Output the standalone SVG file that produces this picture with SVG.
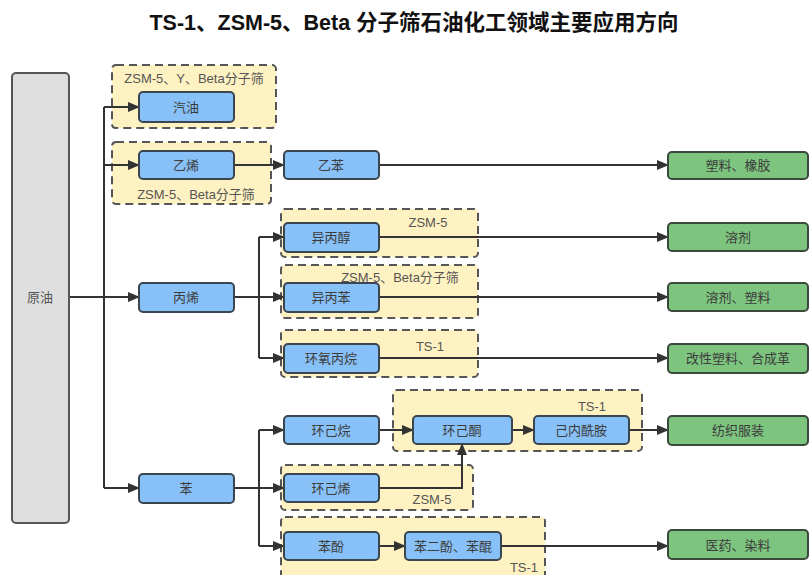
<svg xmlns="http://www.w3.org/2000/svg" width="810" height="575" viewBox="0 0 810 575">
<style>
text{font-family:"Liberation Sans","Noto Sans CJK SC",sans-serif;}
.title{font-size:21.5px;font-weight:bold;fill:#111;text-anchor:middle;}
.grp{fill:#FFF2C2;stroke:#555;stroke-width:2;stroke-dasharray:8 5;}
.glbl{font-size:13px;fill:#555;text-anchor:middle;}
.blue{fill:#88C1F7;stroke:#3a4552;stroke-width:2;}
.green{fill:#7DC47F;stroke:#3a4a3a;stroke-width:2;}
.gray{fill:#DEDEDE;stroke:#555;stroke-width:2;}
.lbl{font-size:13px;fill:#3c3c3c;text-anchor:middle;dominant-baseline:central;}
.cn{fill:none;stroke:#333;stroke-width:2;}
.ar{fill:none;stroke:#333;stroke-width:2;marker-end:url(#ah);}
</style>
<defs>
<marker id="ah" markerWidth="12" markerHeight="10" refX="11" refY="5" orient="auto" markerUnits="userSpaceOnUse">
<path d="M0,0 L12,5 L0,10 Z" fill="#333"/>
</marker>
</defs>
<rect width="810" height="575" fill="#fff"/>
<text class="title" x="414" y="30">TS-1、ZSM-5、Beta 分子筛石油化工领域主要应用方向</text>

<g id="containers">
<g id="grp-gasoline"><rect class="grp" x="112" y="65" width="164" height="63" rx="4"/><text class="glbl" x="194" y="83">ZSM-5、Y、Beta分子筛</text></g>
<g id="grp-ethylene"><rect class="grp" x="112" y="142" width="159" height="62" rx="4"/><text class="glbl" x="196" y="199">ZSM-5、Beta分子筛</text></g>
<g id="grp-ipa"><rect class="grp" x="281" y="209" width="197" height="48" rx="4"/><text class="glbl" x="428" y="227">ZSM-5</text></g>
<g id="grp-cumene"><rect class="grp" x="281" y="265" width="197" height="53" rx="4"/><text class="glbl" x="400" y="282">ZSM-5、Beta分子筛</text></g>
<g id="grp-po"><rect class="grp" x="281" y="330" width="197" height="47" rx="4"/><text class="glbl" x="430" y="351">TS-1</text></g>
<g id="grp-cyclohexanone"><rect class="grp" x="393" y="390" width="249" height="61" rx="4"/><text class="glbl" x="592" y="411">TS-1</text></g>
<g id="grp-cyclohexene"><rect class="grp" x="281" y="465" width="192" height="45" rx="4"/><text class="glbl" x="432" y="504">ZSM-5</text></g>
<g id="grp-phenol"><rect class="grp" x="281" y="517" width="264" height="64" rx="4"/><text class="glbl" x="524" y="572">TS-1</text></g>
</g>

<g id="connectors">
<path class="ar" d="M69,297 H139"/>
<path class="cn" d="M104,107 V488"/>
<path class="ar" d="M104,107 H139"/>
<path class="ar" d="M104,165 H139"/>
<path class="ar" d="M104,488 H139"/>
<path class="ar" d="M234,165 H284"/>
<path class="ar" d="M379,165 H668"/>
<path class="ar" d="M234,297 H284"/>
<path class="cn" d="M259,237 V358"/>
<path class="ar" d="M259,237 H284"/>
<path class="ar" d="M259,358 H284"/>
<path class="ar" d="M379,237 H668"/>
<path class="ar" d="M379,297 H668"/>
<path class="ar" d="M379,358 H668"/>
<path class="ar" d="M234,488 H284"/>
<path class="cn" d="M259,430 V546"/>
<path class="ar" d="M259,430 H284"/>
<path class="ar" d="M259,546 H284"/>
<path class="ar" d="M379,430 H413"/>
<path class="ar" d="M512,430 H534"/>
<path class="ar" d="M629,430 H668"/>
<path class="ar" d="M379,488 H462 V444"/>
<path class="ar" d="M379,546 H405"/>
<path class="ar" d="M501,546 H668"/>
</g>

<g id="crude"><rect class="gray" x="12" y="73" width="57" height="450" rx="4"/><text class="lbl" x="40" y="297" style="fill:#555">原油</text></g>
<g id="gasoline"><rect class="blue" x="139" y="92" width="95" height="30" rx="4"/><text class="lbl" x="186" y="107">汽油</text></g>
<g id="ethylene"><rect class="blue" x="139" y="151" width="95" height="28" rx="4"/><text class="lbl" x="186" y="165">乙烯</text></g>
<g id="propylene"><rect class="blue" x="139" y="283" width="95" height="29" rx="4"/><text class="lbl" x="186" y="297">丙烯</text></g>
<g id="benzene"><rect class="blue" x="139" y="474" width="95" height="29" rx="4"/><text class="lbl" x="186" y="488">苯</text></g>
<g id="ethylbenzene"><rect class="blue" x="284" y="151" width="95" height="28" rx="4"/><text class="lbl" x="331" y="165">乙苯</text></g>
<g id="ipa"><rect class="blue" x="284" y="223" width="95" height="29" rx="4"/><text class="lbl" x="331" y="237">异丙醇</text></g>
<g id="cumene"><rect class="blue" x="284" y="283" width="95" height="29" rx="4"/><text class="lbl" x="331" y="297">异丙苯</text></g>
<g id="po"><rect class="blue" x="284" y="344" width="95" height="29" rx="4"/><text class="lbl" x="331" y="358">环氧丙烷</text></g>
<g id="cyclohexane"><rect class="blue" x="284" y="416" width="95" height="28" rx="4"/><text class="lbl" x="331" y="430">环己烷</text></g>
<g id="cyclohexanone"><rect class="blue" x="413" y="416" width="99" height="28" rx="4"/><text class="lbl" x="462" y="430">环己酮</text></g>
<g id="caprolactam"><rect class="blue" x="534" y="416" width="95" height="28" rx="4"/><text class="lbl" x="581" y="430">己内酰胺</text></g>
<g id="cyclohexene"><rect class="blue" x="284" y="474" width="95" height="28" rx="4"/><text class="lbl" x="331" y="488">环己烯</text></g>
<g id="phenol"><rect class="blue" x="284" y="532" width="95" height="28" rx="4"/><text class="lbl" x="331" y="546">苯酚</text></g>
<g id="diphenol"><rect class="blue" x="405" y="532" width="96" height="28" rx="4"/><text class="lbl" x="453" y="546">苯二酚、苯醌</text></g>
<g id="out-plastic-rubber"><rect class="green" x="668" y="152" width="140" height="27" rx="4"/><text class="lbl" x="738" y="165">塑料、橡胶</text></g>
<g id="out-solvent"><rect class="green" x="668" y="223" width="140" height="28" rx="4"/><text class="lbl" x="738" y="237">溶剂</text></g>
<g id="out-solvent-plastic"><rect class="green" x="668" y="283" width="140" height="28" rx="4"/><text class="lbl" x="738" y="297">溶剂、塑料</text></g>
<g id="out-modplastic"><rect class="green" x="668" y="344" width="140" height="29" rx="4"/><text class="lbl" x="738" y="358">改性塑料、合成革</text></g>
<g id="out-textile"><rect class="green" x="668" y="416" width="140" height="29" rx="4"/><text class="lbl" x="738" y="430">纺织服装</text></g>
<g id="out-medicine"><rect class="green" x="668" y="530" width="140" height="29" rx="4"/><text class="lbl" x="738" y="545">医药、染料</text></g>
</svg>
